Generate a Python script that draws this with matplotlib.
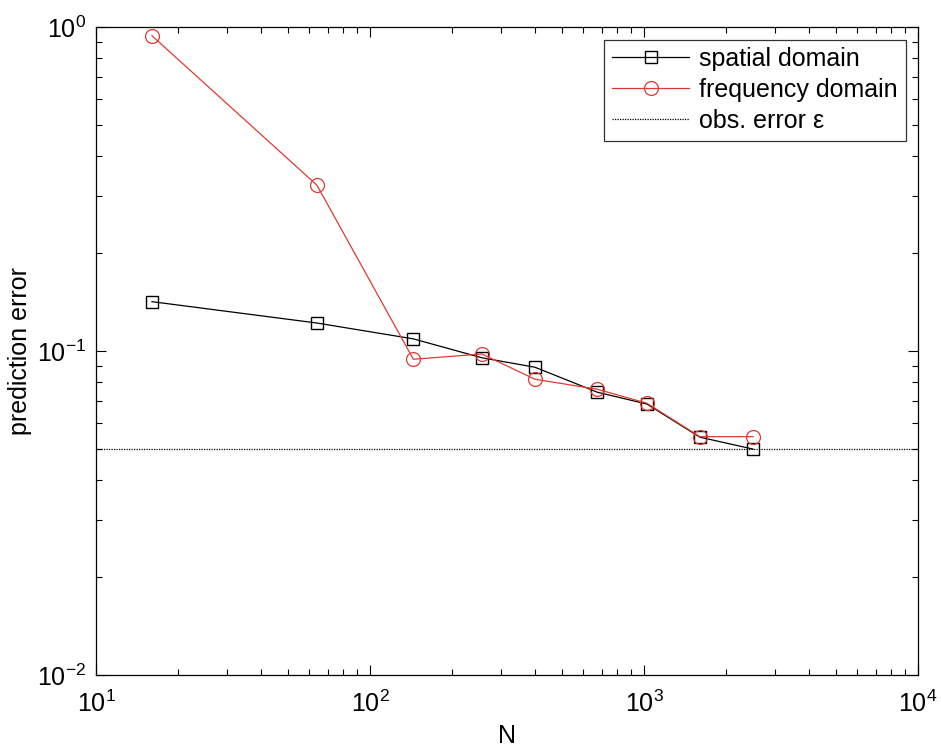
import matplotlib
matplotlib.use("Agg")
import matplotlib.pyplot as plt
from matplotlib.ticker import LogLocator, NullFormatter

plt.rcParams['font.family'] = ['Liberation Sans', 'DejaVu Sans']
plt.rcParams['mathtext.fontset'] = 'custom'
plt.rcParams['mathtext.rm'] = 'Liberation Sans'
plt.rcParams['mathtext.it'] = 'Liberation Sans:italic'
plt.rcParams['axes.unicode_minus'] = False

# data
N = [16, 64, 144, 256, 400, 676, 1024, 1600, 2500]
err_spatial = [0.142, 0.122, 0.109, 0.0953, 0.0891, 0.0746, 0.0686, 0.0542, 0.0498]
err_freq = [0.940, 0.325, 0.0943, 0.0979, 0.0818, 0.0762, 0.0690, 0.0544, 0.0544]
obs_error = 0.05

fig = plt.figure(figsize=(9.41, 7.51), dpi=100)
ax = fig.add_axes([96 / 941, 76 / 751, 822 / 941, 648 / 751])

red = '#e03a30'
ax.plot(N, err_spatial, color='black', lw=0.9, marker='s', ms=8,
        mfc='none', mec='black', mew=1.0, label='spatial domain')
ax.plot(N, err_freq, color=red, lw=0.9, marker='o', ms=10,
        mfc='none', mec=red, mew=0.9, label='frequency domain')
ax.axhline(obs_error, color='black', lw=0.9, ls=(0, (1, 1)),
           label='obs. error ε')

ax.set_xscale('log')
ax.set_yscale('log')
ax.set_xlim(10, 1e4)
ax.set_ylim(1e-2, 1)

ax.xaxis.set_minor_locator(LogLocator(base=10, subs=range(2, 10)))
ax.yaxis.set_minor_locator(LogLocator(base=10, subs=range(2, 10)))
ax.xaxis.set_minor_formatter(NullFormatter())
ax.yaxis.set_minor_formatter(NullFormatter())

ax.tick_params(which='both', direction='in', top=True, right=True,
               labelsize=18, width=0.8)
ax.tick_params(which='major', length=7)
ax.tick_params(axis='x', which='major', pad=11)
ax.tick_params(axis='y', which='major', pad=7)
ax.tick_params(which='minor', length=4)
for s in ax.spines.values():
    s.set_linewidth(0.9)

ax.set_xlabel('N', fontsize=18, labelpad=5)
ax.set_ylabel('prediction error', fontsize=18, labelpad=4)

leg = ax.legend(loc='upper right', fontsize=18, frameon=True, fancybox=False,
                edgecolor='black', borderaxespad=0.5, handlelength=3.1,
                labelspacing=0.28, borderpad=0.3, handletextpad=0.4)
leg.get_frame().set_linewidth(0.9)

fig.savefig('out.png', dpi=100)
